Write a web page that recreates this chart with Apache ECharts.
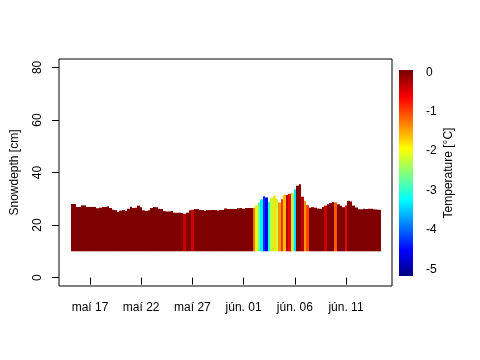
<!DOCTYPE html>
<html><head><meta charset="utf-8">
<script src="https://cdn.jsdelivr.net/npm/echarts@6/dist/echarts.min.js"></script>
<style>html,body{margin:0;padding:0;background:#fff}#c{width:480px;height:360px}</style>
</head><body><div id="c"></div>
<script>
// time of first record (day of May; June 1 = 32) and record spacing (days)
const startDay = 15.125;
const stepDays = 0.25;
// snow depth [cm], one value per record
const snowDepth = [
 28.0, 28.0, 26.9, 26.9, 27.5, 27.5, 26.9, 26.9, 26.9, 26.9,
 26.4, 26.6, 26.9, 26.9, 27.2, 26.5, 25.8, 25.7, 25.0, 25.5,
 25.7, 25.4, 26.2, 27.0, 26.5, 26.6, 27.4, 26.8, 25.6, 25.4,
 25.6, 26.5, 26.9, 26.8, 26.2, 26.1, 25.3, 25.2, 25.2, 25.3,
 24.7, 24.7, 24.7, 24.6, 24.3, 24.7, 25.6, 25.8, 26.1, 26.1,
 25.8, 25.7, 25.4, 25.7, 25.7, 25.7, 25.7, 25.5, 25.7, 25.7,
 26.3, 26.1, 26.1, 26.1, 26.1, 26.4, 26.5, 26.2, 26.5, 26.5,
 26.5, 26.6, 27.5, 28.6, 29.8, 31.0, 30.5, 28.8, 30.4, 31.1,
 30.0, 28.6, 29.8, 31.5, 31.4, 31.9, 32.2, 33.6, 35.0, 35.5,
 30.8, 29.2, 27.6, 26.6, 26.8, 26.6, 26.3, 26.2, 26.9, 27.4,
 27.9, 28.4, 28.8, 28.6, 27.9, 27.3, 26.8, 27.4, 29.2, 29.0,
 27.4, 26.7, 26.0, 26.0, 26.2, 26.1, 26.2, 26.2, 26.0, 25.9,
 25.8
];
// temperature [°C], one value per record
const temperature = [
 0, 0, 0, 0, 0, 0, 0, 0, 0, 0,
 0, 0, 0, 0, 0, 0, 0, 0, 0, 0,
 0, 0, 0, 0, 0, 0, 0, 0, 0, 0,
 0, 0, 0, 0, 0, 0, 0, 0, 0, 0,
 0, 0, 0, 0, -0.35, 0, 0, -0.4, 0, 0,
 0, 0, 0, 0, 0, 0, 0, 0, 0, 0,
 0, 0, 0, 0, 0, 0, 0, 0, 0, 0,
 0, -1.2, -2.1, -2.7, -3.3, -4.3, -4.6, -3.0, -2.3, -1.8,
 -2.2, -1.4, -0.9, -1.6, -0.3, -0.6, -2.4, -3.4, 0, 0,
 -0.3, -1.4, -1.0, 0, 0, 0, 0, 0, 0, -0.35,
 0, 0, 0, -1.1, 0, 0, 0, -0.5, 0, 0,
 0, 0, 0, 0, 0, 0, 0, 0, 0, 0,
 0
];
const barBase = 10;
const xTickDays = [17, 22, 27, 32, 37, 42];
const xTickLabels = ['maí 17', 'maí 22', 'maí 27', 'jún. 01', 'jún. 06', 'jún. 11'];
const yTicks = [0, 20, 40, 60, 80];
const tempTicks = [0, -1, -2, -3, -4, -5];
const tempTickLabels = ['0', '-1', '-2', '-3', '-4', '-5'];
const jet = ['#00007F', '#0000FF', '#007FFF', '#00FFFF', '#7FFF7F', '#FFFF00', '#FF7F00', '#FF0000', '#7F0000'];
const tempMin = -5.17, tempMax = 0;      // colour scale
const legendMin = -5.17, legendMax = 0.06; // colour bar extent

const records = snowDepth.map((d, i) => [startDay + i * stepDays, d, temperature[i]]);

const stops = [{offset: 0, color: jet[jet.length - 1]}];
for (let j = jet.length - 1; j >= 0; j--) {
  const v = tempMin + j * (tempMax - tempMin) / (jet.length - 1);
  stops.push({offset: (legendMax - v) / (legendMax - legendMin), color: jet[j]});
}

const chart = echarts.init(document.getElementById('c'), null, {renderer: 'canvas'});
const font = {fontFamily: 'Liberation Sans, Arial, sans-serif', fontSize: 12, color: '#000'};
chart.setOption({
  animation: false,
  textStyle: {fontFamily: 'Liberation Sans, Arial, sans-serif'},
  grid: [
    {left: 59, top: 59, width: 333, height: 227, show: true, borderColor: '#000', borderWidth: 1, backgroundColor: 'transparent'},
    {left: 399, top: 70, width: 14, height: 206, show: false}
  ],
  visualMap: {
    type: 'continuous', show: false, seriesIndex: 0, dimension: 2,
    min: tempMin, max: tempMax, inRange: {color: jet}
  },
  xAxis: [
    {
      gridIndex: 0, type: 'value', min: 13.973, max: 46.492,
      axisLine: {show: false}, splitLine: {show: false},
      axisTick: {show: true, customValues: xTickDays, length: 7, lineStyle: {color: '#000', width: 1}},
      axisLabel: Object.assign({customValues: xTickDays, margin: 16,
        formatter: v => xTickLabels[xTickDays.findIndex(d => Math.abs(d - v) < 1e-6)]}, font)
    },
    {gridIndex: 1, type: 'value', min: 0, max: 1, show: false}
  ],
  yAxis: [
    {
      gridIndex: 0, type: 'value', min: -3.2, max: 83.2,
      axisLine: {show: false}, splitLine: {show: false},
      axisTick: {show: true, customValues: yTicks, length: 7, lineStyle: {color: '#000', width: 1}},
      axisLabel: Object.assign({customValues: yTicks, rotate: 90, margin: 15}, font),
      name: 'Snowdepth [cm]', nameLocation: 'middle', nameGap: 38, nameTextStyle: font
    },
    {
      gridIndex: 1, type: 'value', min: legendMin, max: legendMax, position: 'right', offset: 6,
      axisLine: {show: false}, splitLine: {show: false},
      axisTick: {show: true, customValues: tempTicks, length: 4, lineStyle: {color: '#000', width: 1}},
      axisLabel: Object.assign({customValues: tempTicks, margin: 7,
        formatter: v => tempTickLabels[tempTicks.findIndex(d => Math.abs(d - v) < 1e-6)]}, font),
      name: 'Temperature [°C]', nameLocation: 'middle', nameRotate: 90, nameGap: 24, nameTextStyle: font
    }
  ],
  series: [
    {
      type: 'custom', xAxisIndex: 0, yAxisIndex: 0, data: records,
      encode: {x: 0, y: 1},
      renderItem: (params, api) => {
        const t = api.value(0), d = api.value(1);
        const p0 = api.coord([t, barBase]);
        const p1 = api.coord([t + stepDays, d]);
        const x0 = Math.round(p0[0]), x1 = Math.round(p1[0]);
        return {type: 'rect', shape: {x: x0, y: p1[1], width: x1 - x0, height: p0[1] - p1[1]},
          style: {fill: api.visual('color')}};
      }
    },
    {
      type: 'custom', xAxisIndex: 1, yAxisIndex: 1, data: [[0, legendMin, legendMax]],
      renderItem: (params, api) => {
        const a = api.coord([0, api.value(2)]);
        const b = api.coord([1, api.value(1)]);
        return {type: 'rect', shape: {x: a[0], y: a[1], width: b[0] - a[0], height: b[1] - a[1]},
          style: {fill: {type: 'linear', x: 0, y: 0, x2: 0, y2: 1, colorStops: stops}}};
      }
    }
  ]
});
</script>
</body></html>
